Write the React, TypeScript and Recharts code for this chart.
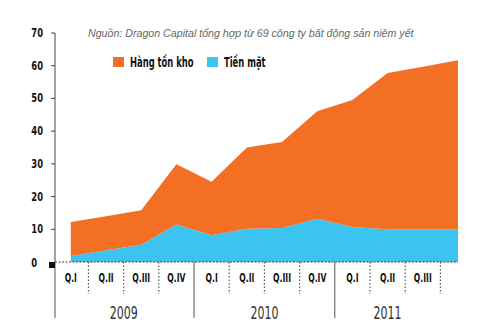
import React from "react";
import { AreaChart, Area, XAxis, YAxis } from "recharts";

const quarterLabels = ["Q.I", "Q.II", "Q.III", "Q.IV", "Q.I", "Q.II", "Q.III", "Q.IV", "Q.I", "Q.II", "Q.III", "Q.IV"];
const yearLabels = ["2009", "2010", "2011"];
// tỷ đồng
const cashValues = [1.8, 3.6, 5.3, 11.5, 8.2, 10.2, 10.4, 13.2, 10.7, 10.0, 9.9, 9.9];
const inventoryValues = [10.4, 10.4, 10.5, 18.4, 16.3, 24.8, 26.3, 32.9, 38.8, 47.8, 49.8, 51.8];
const yTicks = [0, 10, 20, 30, 40, 50, 60, 70];

const ORANGE = "#F26F24";
const CYAN = "#3BC4F0";
const NARROW = "'DejaVu Sans Condensed', 'DejaVu Sans', sans-serif";

const X_MIN = -0.45;
const X_MAX = quarterLabels.length - 1;
// year label centres in axis units
const yearCenters = [1.5, 5.5, 9];
const yearBounds = [X_MIN, 3.5, 7.5];

const data = quarterLabels.map((q, i) => ({
  i,
  q,
  cash: cashValues[i],
  inventory: inventoryValues[i],
}));

const xTicks = Array.from(
  new Set([
    X_MIN,
    ...quarterLabels.slice(0, -1).map((_, i) => i),
    ...quarterLabels.slice(0, -1).map((_, i) => i + 0.5),
  ])
).sort((a, b) => a - b);

// squeezed text, the original uses a condensed face
function NText({ x, y, sx, size, weight = 700, anchor = "middle", fill = "#111", children }: any) {
  return (
    <text
      transform={`translate(${x},${y}) scale(${sx},1)`}
      textAnchor={anchor}
      fontFamily={NARROW}
      fontWeight={weight}
      fontSize={size}
      fontStretch="condensed"
      fill={fill}
    >
      {children}
    </text>
  );
}

function XTick(props: any) {
  const { x, y, payload } = props;
  const v = payload.value as number;
  const parts: React.ReactNode[] = [];
  if (yearBounds.includes(v)) {
    parts.push(<line key="b" x1={x} x2={x} y1={y} y2={y + 56} stroke="#555" strokeWidth={1} />);
  } else if (Math.abs(v % 1) === 0.5) {
    parts.push(
      <line key="s" x1={x} x2={x} y1={y} y2={y + 32} stroke="#555" strokeWidth={1.2} strokeDasharray="1.5 2" />
    );
  }
  if (Number.isInteger(v)) {
    parts.push(
      <NText key="q" x={x} y={y + 19.5} sx={0.74} size={11.5}>
        {quarterLabels[v]}
      </NText>
    );
  }
  const yi = yearCenters.indexOf(v);
  if (yi >= 0) {
    parts.push(
      <NText key="y" x={x} y={y + 57} sx={0.72} size={17} weight={400} fill="#333">
        {yearLabels[yi]}
      </NText>
    );
  }
  return <g>{parts}</g>;
}

function YTick(props: any) {
  const { x, y, payload } = props;
  const v = payload.value as number;
  if (v === 0) {
    return (
      <g>
        <rect x={x - 6} y={y} width={6} height={6} fill="#111" />
        <NText x={x - 18} y={y + 5} sx={0.78} size={12} anchor="end">
          0
        </NText>
      </g>
    );
  }
  return (
    <g>
      <line x1={x - 4} x2={x} y1={y} y2={y} stroke="#444" />
      <NText x={x - 12} y={y + 4} sx={0.78} size={12} anchor="end">
        {v}
      </NText>
    </g>
  );
}

const legendText: React.CSSProperties = {
  position: "absolute",
  top: 0,
  fontFamily: NARROW,
  fontStretch: "condensed",
  fontWeight: 700,
  fontSize: 13.5,
  lineHeight: "16px",
  color: "#111",
  whiteSpace: "nowrap",
  transform: "scaleX(0.69)",
  transformOrigin: "left center",
};

export default function App() {
  return (
    <div style={{ position: "fixed", left: 0, top: 0, width: 500, height: 330, background: "#fff" }}>
      <AreaChart width={500} height={330} data={data} margin={{ top: 33, right: 42, bottom: 0, left: 0 }}>
        <XAxis
          dataKey="i"
          type="number"
          domain={[X_MIN, X_MAX]}
          allowDataOverflow
          ticks={xTicks}
          interval={0}
          tick={<XTick />}
          tickLine={false}
          tickSize={0}
          tickMargin={0}
          height={68}
          axisLine={{ stroke: "#444", strokeDasharray: "2 1.5" }}
        />
        <YAxis
          domain={[0, 70]}
          ticks={yTicks}
          interval={0}
          width={55}
          tick={<YTick />}
          tickLine={false}
          tickSize={0}
          tickMargin={0}
          axisLine={{ stroke: "#444" }}
        />
        <Area
          type="linear"
          dataKey="cash"
          stackId="a"
          stroke="none"
          fill={CYAN}
          fillOpacity={1}
          isAnimationActive={false}
        />
        <Area
          type="linear"
          dataKey="inventory"
          stackId="a"
          stroke="none"
          fill={ORANGE}
          fillOpacity={1}
          isAnimationActive={false}
        />
      </AreaChart>
      <div
        style={{
          position: "absolute",
          left: 88,
          top: 27,
          fontFamily: "'Liberation Sans', sans-serif",
          fontStyle: "italic",
          fontSize: 10.65,
          color: "#666",
          whiteSpace: "nowrap",
        }}
      >
        Nguồn: Dragon Capital tổng hợp từ 69 công ty bất động sản niêm yết
      </div>
      <div style={{ position: "absolute", left: 0, top: 54, width: 500, height: 16 }}>
        <span style={{ position: "absolute", left: 113, top: 3, width: 11, height: 10, background: ORANGE }} />
        <span style={{ ...legendText, left: 130 }}>Hàng tồn kho</span>
        <span style={{ position: "absolute", left: 207, top: 3, width: 11, height: 10, background: CYAN }} />
        <span style={{ ...legendText, left: 224 }}>Tiền mặt</span>
      </div>
    </div>
  );
}
